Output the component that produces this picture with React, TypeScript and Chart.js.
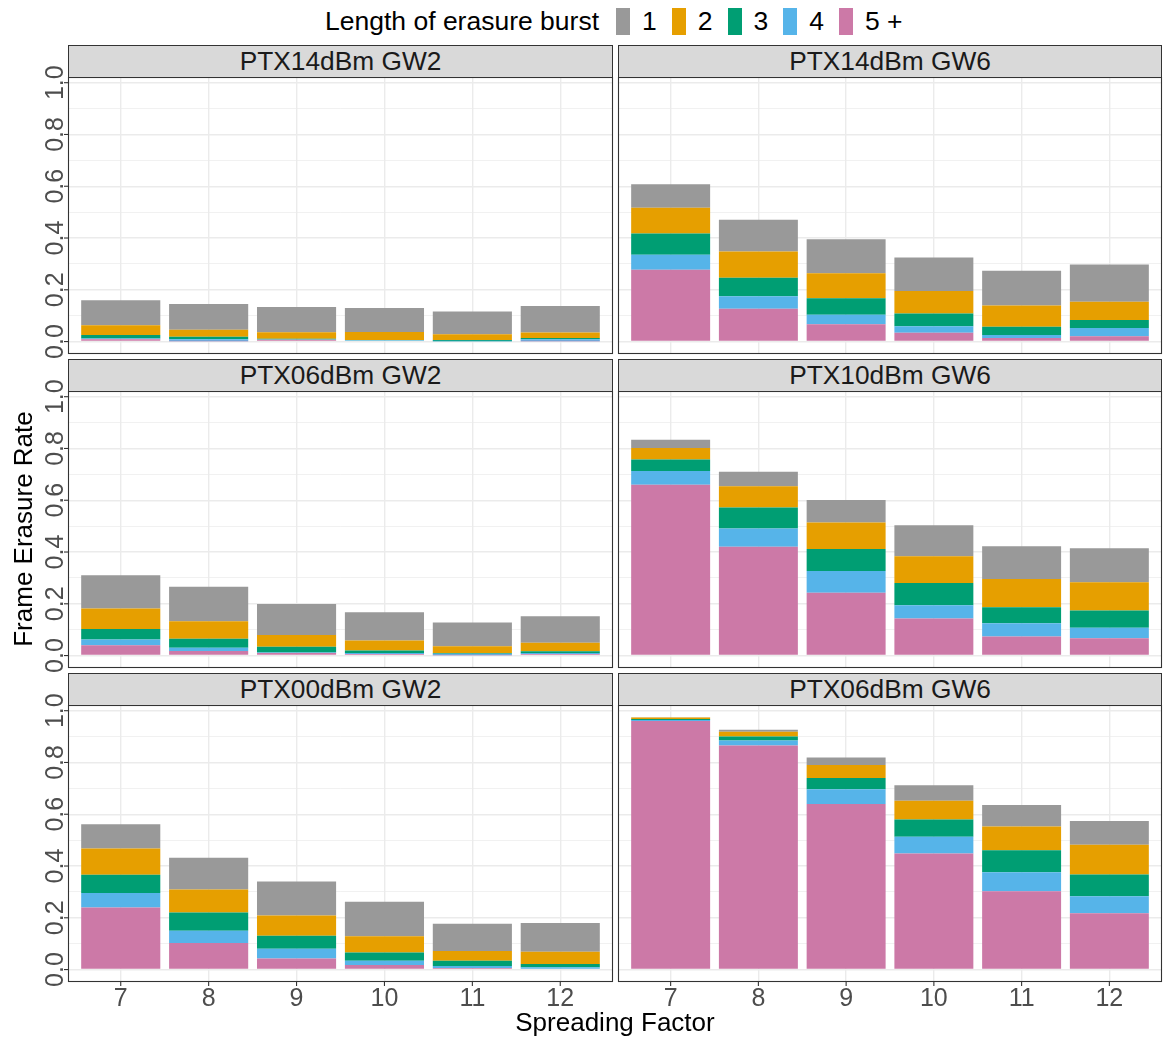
import React, { useEffect, useRef } from "react";
import { Chart, registerables } from "chart.js";

Chart.register(...registerables);

// ---------- data ----------
const spreadingFactors = [7, 8, 9, 10, 11, 12];
const burstLengths = ["1", "2", "3", "4", "5 +"];
const burstColors = ["#999999", "#E69F00", "#009E73", "#56B4E9", "#CC79A7"];
const yTickValues = [0, 0.2, 0.4, 0.6, 0.8, 1.0];
const yGridValues = [0, 0.1, 0.2, 0.3, 0.4, 0.5, 0.6, 0.7, 0.8, 0.9, 1.0];
const yRange = [-0.048, 1.022];
const xRange = [6.4, 12.6];

// rows: burst length 1, 2, 3, 4, 5+ ; columns: SF 7..12
const ptx14Gw2 = [
  [0.097, 0.099, 0.098, 0.093, 0.088, 0.102],
  [0.038, 0.027, 0.025, 0.031, 0.022, 0.021],
  [0.013, 0.010, 0.003, 0.001, 0.005, 0.005],
  [0.003, 0.008, 0.001, 0.005, 0.001, 0.008],
  [0.009, 0.001, 0.007, 0.000, 0.000, 0.001],
];
const ptx14Gw6 = [
  [0.091, 0.123, 0.131, 0.130, 0.135, 0.144],
  [0.100, 0.101, 0.097, 0.087, 0.082, 0.071],
  [0.082, 0.072, 0.063, 0.049, 0.032, 0.031],
  [0.058, 0.048, 0.037, 0.025, 0.011, 0.031],
  [0.277, 0.127, 0.067, 0.034, 0.014, 0.021],
];
const ptx06Gw2 = [
  [0.128, 0.133, 0.120, 0.109, 0.092, 0.102],
  [0.079, 0.068, 0.045, 0.038, 0.026, 0.033],
  [0.041, 0.035, 0.022, 0.010, 0.003, 0.007],
  [0.022, 0.012, 0.002, 0.004, 0.006, 0.004],
  [0.040, 0.018, 0.010, 0.006, 0.001, 0.006],
];
const ptx10Gw6 = [
  [0.032, 0.056, 0.087, 0.119, 0.126, 0.132],
  [0.045, 0.082, 0.102, 0.104, 0.109, 0.109],
  [0.044, 0.081, 0.085, 0.086, 0.062, 0.067],
  [0.053, 0.071, 0.084, 0.051, 0.051, 0.040],
  [0.660, 0.420, 0.243, 0.143, 0.074, 0.067],
];
const ptx00Gw2 = [
  [0.093, 0.123, 0.131, 0.133, 0.105, 0.111],
  [0.102, 0.089, 0.078, 0.063, 0.038, 0.047],
  [0.070, 0.070, 0.051, 0.032, 0.020, 0.013],
  [0.056, 0.047, 0.037, 0.016, 0.008, 0.006],
  [0.240, 0.103, 0.043, 0.018, 0.006, 0.003],
];
const ptx06Gw6 = [
  [0.001, 0.007, 0.029, 0.060, 0.083, 0.092],
  [0.006, 0.019, 0.050, 0.072, 0.092, 0.115],
  [0.004, 0.015, 0.043, 0.067, 0.085, 0.084],
  [0.004, 0.019, 0.057, 0.065, 0.073, 0.065],
  [0.960, 0.866, 0.640, 0.448, 0.303, 0.218],
];

const panelTitles = [
  "PTX14dBm GW2", "PTX14dBm GW6",
  "PTX06dBm GW2", "PTX10dBm GW6",
  "PTX00dBm GW2", "PTX06dBm GW6",
];
const panelValues = [ptx14Gw2, ptx14Gw6, ptx06Gw2, ptx10Gw6, ptx00Gw2, ptx06Gw6];

// ---------- layout ----------
const FONT = "'Liberation Sans', Arial, Helvetica, sans-serif";
const colX = [68, 618];
const colW = [545, 544];
const rowY = [77, 391, 705];
const PANEL_H = 277;
const STRIP_H = 32;

function facetPlugin(showX: boolean, showY: boolean) {
  return {
    id: "facetDecor",
    afterDatasetsDraw(chart: any) {
      const { ctx, chartArea: a, scales } = chart;
      ctx.save();
      ctx.strokeStyle = "#333333";
      ctx.lineWidth = 1.1;
      ctx.strokeRect(a.left + 0.5, a.top + 0.5, a.right - a.left - 1, a.bottom - a.top - 1);
      ctx.fillStyle = "#4D4D4D";
      ctx.font = `25px ${FONT}`;
      if (showY) {
        for (const v of yTickValues) {
          const y = scales.y.getPixelForValue(v);
          ctx.beginPath();
          ctx.moveTo(a.left - 4, y);
          ctx.lineTo(a.left, y);
          ctx.stroke();
          ctx.save();
          ctx.translate(a.left - 5.5, y);
          ctx.rotate(-Math.PI / 2);
          ctx.textAlign = "center";
          ctx.textBaseline = "alphabetic";
          ctx.fillText(v.toFixed(1), 0, 0);
          ctx.restore();
        }
      }
      if (showX) {
        for (const sf of spreadingFactors) {
          const x = scales.x.getPixelForValue(sf);
          ctx.beginPath();
          ctx.moveTo(x, a.bottom);
          ctx.lineTo(x, a.bottom + 4);
          ctx.stroke();
          ctx.textAlign = "center";
          ctx.textBaseline = "alphabetic";
          ctx.fillText(String(sf), x, a.bottom + 23.5);
        }
      }
      ctx.restore();
    },
  };
}

function Panel({ index }: { index: number }) {
  const ref = useRef<HTMLCanvasElement>(null);
  const col = index % 2;
  const row = Math.floor(index / 2);
  const showY = col === 0;
  const showX = row === 2;
  const padL = showY ? 42 : 2;
  const padR = 2;
  const padT = showY ? 22 : 2;
  const padB = showX ? 34 : showY ? 22 : 2;
  const px = colX[col];
  const py = rowY[row];
  const pw = colW[col];
  const cw = pw + padL + padR;
  const ch = PANEL_H + padT + padB;

  useEffect(() => {
    const values = panelValues[index];
    const datasets = [4, 3, 2, 1, 0].map((k) => ({
      label: burstLengths[k],
      data: values[k].map((v, i) => ({ x: spreadingFactors[i], y: v })),
      backgroundColor: burstColors[k],
      borderWidth: 0,
      categoryPercentage: 0.9,
      barPercentage: 1.0,
    }));
    const isMajor = (v: number) => Math.abs(v * 5 - Math.round(v * 5)) < 1e-6;
    const chart = new Chart(ref.current as HTMLCanvasElement, {
      type: "bar",
      data: { datasets } as any,
      options: {
        animation: false,
        responsive: false,
        maintainAspectRatio: false,
        devicePixelRatio: 1,
        layout: { padding: { left: padL, right: padR, top: padT, bottom: padB } },
        plugins: { legend: { display: false }, tooltip: { enabled: false } },
        scales: {
          x: {
            type: "linear",
            stacked: true,
            offset: false,
            min: xRange[0],
            max: xRange[1],
            afterBuildTicks: (s: any) => {
              s.ticks = spreadingFactors.map((v) => ({ value: v }));
            },
            ticks: { display: false },
            border: { display: false },
            grid: { color: "#EBEBEB", lineWidth: 1.4, drawTicks: false, offset: false },
          },
          y: {
            type: "linear",
            stacked: true,
            min: yRange[0],
            max: yRange[1],
            afterBuildTicks: (s: any) => {
              s.ticks = yGridValues.map((v) => ({ value: v }));
            },
            ticks: { display: false },
            border: { display: false },
            grid: {
              color: "#EBEBEB",
              drawTicks: false,
              lineWidth: (c: any) => (c.tick && isMajor(c.tick.value) ? 1.4 : 0.7),
            },
          },
        },
      } as any,
      plugins: [facetPlugin(showX, showY)],
    });
    return () => chart.destroy();
  }, []);

  return (
    <>
      <canvas
        ref={ref}
        width={cw}
        height={ch}
        style={{ position: "absolute", left: px - padL, top: py - padT, width: cw, height: ch }}
      />
      <div
        style={{
          position: "absolute",
          left: px,
          top: py - STRIP_H,
          width: pw,
          height: STRIP_H + 1,
          boxSizing: "border-box",
          border: "1px solid #333333",
          background: "#D9D9D9",
          color: "#1A1A1A",
          font: `26.3px ${FONT}`,
          display: "flex",
          alignItems: "center",
          justifyContent: "center",
        }}
      >
        {panelTitles[index]}
      </div>
    </>
  );
}

export default function App() {
  return (
    <div
      style={{
        position: "absolute",
        left: 0,
        top: 0,
        width: 1163,
        height: 1044,
        overflow: "hidden",
        background: "#FFFFFF",
        fontFamily: FONT,
      }}
    >
      {/* legend */}
      <div
        style={{
          position: "absolute",
          left: 325,
          top: 8,
          height: 27,
          display: "flex",
          alignItems: "center",
          font: `26.5px ${FONT}`,
          color: "#000000",
          whiteSpace: "nowrap",
        }}
      >
        <span>Length of erasure burst</span>
        {burstLengths.map((b, i) => (
          <React.Fragment key={b}>
            <span
              style={{
                display: "inline-block",
                width: 14,
                height: 27,
                marginLeft: i === 0 ? 17 : 15,
                background: burstColors[i],
              }}
            />
            <span style={{ marginLeft: 12 }}>{b}</span>
          </React.Fragment>
        ))}
      </div>

      {panelTitles.map((_, i) => (
        <Panel key={i} index={i} />
      ))}

      {/* y axis title */}
      <div
        style={{
          position: "absolute",
          left: 23 - 200,
          top: 529 - 15,
          width: 400,
          height: 30,
          lineHeight: "30px",
          textAlign: "center",
          font: `26px ${FONT}`,
          color: "#000000",
          transform: "rotate(-90deg)",
          whiteSpace: "nowrap",
        }}
      >
        Frame Erasure Rate
      </div>

      {/* x axis title */}
      <div
        style={{
          position: "absolute",
          left: 415,
          top: 1007,
          width: 400,
          height: 30,
          lineHeight: "30px",
          textAlign: "center",
          font: `26px ${FONT}`,
          color: "#000000",
          whiteSpace: "nowrap",
        }}
      >
        Spreading Factor
      </div>
    </div>
  );
}
